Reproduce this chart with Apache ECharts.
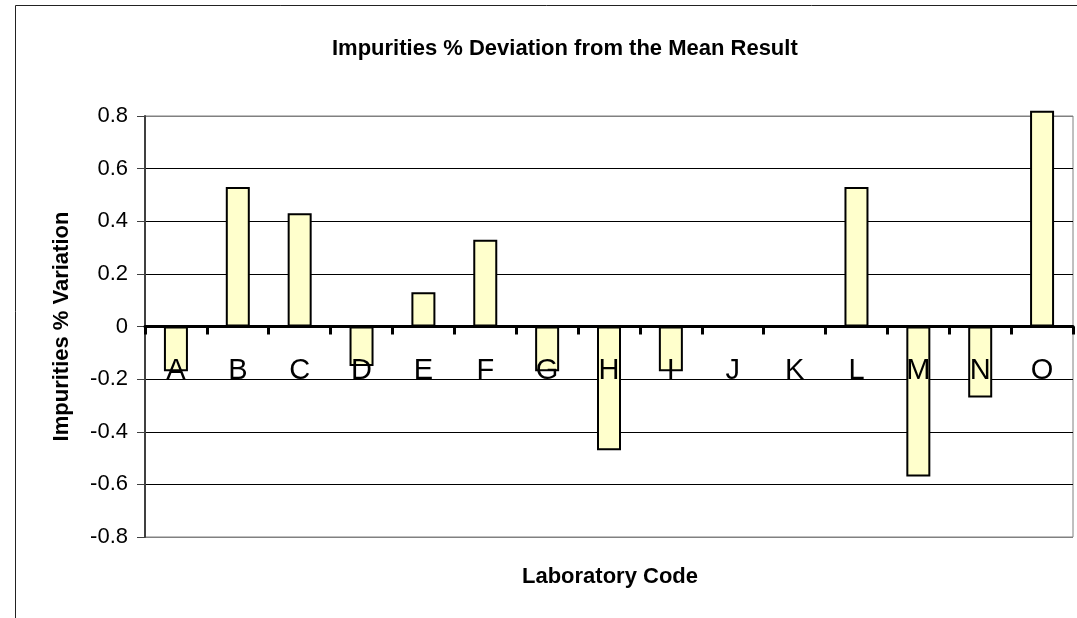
<!DOCTYPE html>
<html>
<head>
<meta charset="utf-8">
<script src="https://cdn.jsdelivr.net/npm/echarts@6/dist/echarts.min.js"></script>
<style>
  html, body { margin: 0; padding: 0; background: #fff; }
  #chart { width: 1077px; height: 618px; }
</style>
</head>
<body>
<div id="chart"></div>
<script>
// data
const labs = ['A', 'B', 'C', 'D', 'E', 'F', 'G', 'H', 'I', 'J', 'K', 'L', 'M', 'N', 'O']
const deviation = [-0.17, 0.53, 0.43, -0.15, 0.13, 0.33, -0.17, -0.47, -0.17, 0, 0, 0.53, -0.57, -0.27, 0.82]
const yMin = -0.8
const yMax = 0.8

const font = 'Liberation Sans, Arial, sans-serif'

// plot border grey at top/bottom, black gridlines inside
const gridColors = ['#808080', '#000', '#000', '#000', '#000', '#000', '#000', '#000', '#808080']

const gridTop = 116
const gridBottom = 81
const plotH = 618 - gridTop - gridBottom
// move the category axis (line, ticks, labels) up to the zero line
const zeroOffset = -plotH * (0 - yMin) / (yMax - yMin)

const myChart = echarts.init(document.getElementById('chart'))

const option = {
  animation: false,
  backgroundColor: '#fff',
  title: {
    text: 'Impurities % Deviation from the Mean Result',
    left: 327,
    top: 33,
    textStyle: { fontFamily: font, fontSize: 22, fontWeight: 'bold', color: '#000' }
  },
  grid: {
    left: 145,
    right: 4,
    top: gridTop,
    bottom: gridBottom,
    show: true,
    borderColor: '#808080',
    borderWidth: 1
  },
  xAxis: {
    type: 'category',
    data: labs,
    z: 5,
    offset: zeroOffset,
    axisLine: { onZero: false, lineStyle: { color: '#000', width: 3 } },
    axisTick: { show: true, length: 8, lineStyle: { color: '#000', width: 3 } },
    axisLabel: { margin: 30, fontFamily: font, fontSize: 29, color: '#000' },
    splitLine: { show: false }
  },
  yAxis: {
    type: 'value',
    min: yMin,
    max: yMax,
    interval: 0.2,
    name: 'Impurities % Variation',
    nameLocation: 'middle',
    nameGap: 72,
    nameTextStyle: { fontFamily: font, fontSize: 22, fontWeight: 'bold', color: '#000' },
    axisLine: { show: true, lineStyle: { color: '#404040', width: 2 } },
    axisTick: { show: true, length: 8, lineStyle: { color: '#404040', width: 1 } },
    axisLabel: { margin: 17, fontFamily: font, fontSize: 22, color: '#000' },
    splitLine: { show: true, lineStyle: { color: gridColors, width: 1 } }
  },
  series: [
    {
      type: 'bar',
      data: deviation,
      barWidth: 24,
      clip: false,
      itemStyle: { color: '#FFFFCC', borderColor: '#000', borderWidth: 2 }
    }
  ],
  graphic: [
    {
      type: 'text',
      left: 522,
      top: 566,
      style: { text: 'Laboratory Code', font: 'bold 22px ' + font, fill: '#000' }
    },
    {
      type: 'polyline',
      shape: { points: [[15.5, 618], [15.5, 5.5], [1077, 5.5]] },
      style: { stroke: '#222', lineWidth: 1, fill: null }
    }
  ]
}
option && myChart.setOption(option)
</script>
</body>
</html>
